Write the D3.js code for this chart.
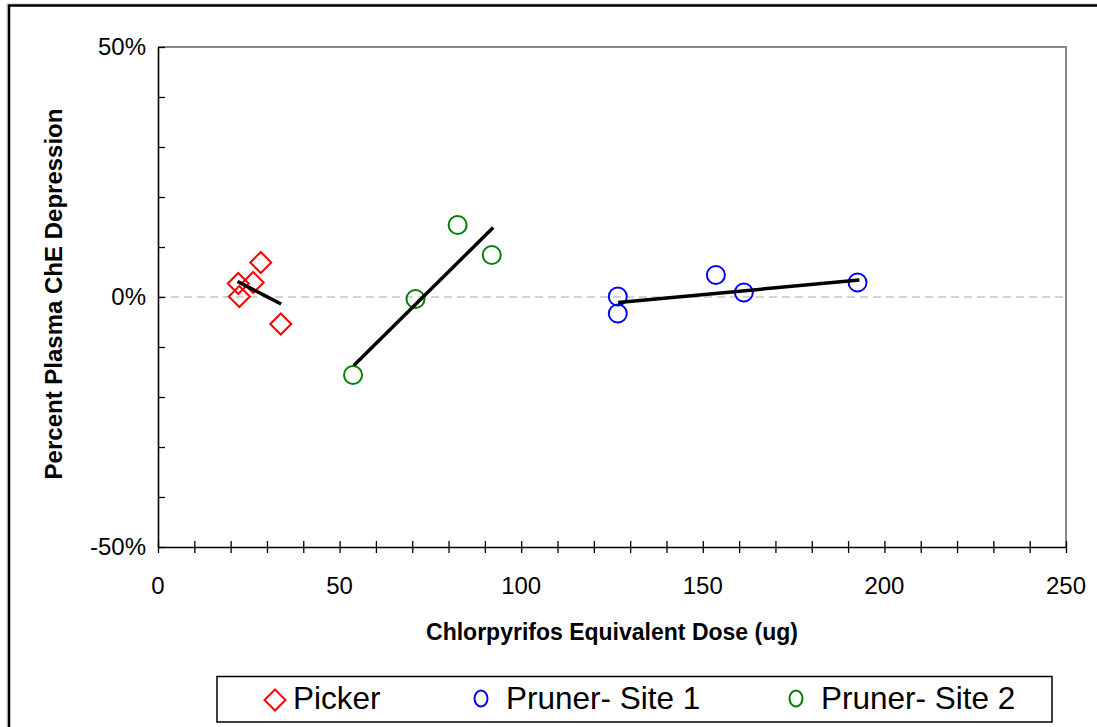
<!DOCTYPE html>
<html>
<head>
<meta charset="utf-8">
<script src="https://cdn.jsdelivr.net/npm/d3@7"></script>
<style>
  body { margin: 0; background: #fff; }
  svg { display: block; font-family: "Liberation Sans", Arial, sans-serif; }
  .tick-label { font-size: 24px; fill: #000; }
  .axis-title { font-size: 23px; font-weight: bold; fill: #000; }
  .legend-text { font-size: 31.5px; fill: #000; }
</style>
</head>
<body>
<svg width="1097" height="727"></svg>
<script>
// dose (ug) vs percent plasma ChE depression
const pickerDose = [22.1, 22.4, 26.2, 28.3, 33.8];
const pickerPct = [2.7, 0.1, 2.9, 6.9, -5.4];
const site1Dose = [126.6, 126.6, 153.6, 161.3, 192.6];
const site1Pct = [0.1, -3.3, 4.4, 0.9, 2.9];
const site2Dose = [53.7, 70.9, 82.5, 91.9];
const site2Pct = [-15.6, -0.4, 14.4, 8.4];

// trend line end points [dose, pct]
const pickerTrend = [[21.9, 3.1], [33.9, -1.4]];
const site1Trend = [[126.7, -1.1], [193.1, 3.4]];
const site2Trend = [[53.9, -13.7], [92.3, 13.9]];

const xTicks = [0, 50, 100, 150, 200, 250];
const yTicks = [50, 0, -50];
const seriesNames = ['Picker', 'Pruner- Site 1', 'Pruner- Site 2'];

const svg = d3.select('svg');

const plotLeft = 158, plotRight = 1066, plotTop = 47, plotBottom = 547;

const x = d3.scaleLinear().domain([0, 250]).range([plotLeft, plotRight]);
const y = d3.scaleLinear().domain([-50, 50]).range([plotBottom, plotTop]);

// outer chart frame
svg.append('rect')
    .attr('x', 7).attr('y', 4)
    .attr('width', 1200).attr('height', 900)
    .attr('fill', 'none')
    .attr('stroke', '#c8c8c8')
    .attr('stroke-width', 1);
svg.append('rect')
    .attr('x', 9).attr('y', 5.5)
    .attr('width', 1200).attr('height', 900)
    .attr('fill', 'none')
    .attr('stroke', '#000')
    .attr('stroke-width', 2.5);

// plot area border (top and right grey)
svg.append('path')
    .attr('d', `M${plotLeft},${plotTop}H${plotRight}V${plotBottom}`)
    .attr('fill', 'none')
    .attr('stroke', '#878787')
    .attr('stroke-width', 2);

// zero line
svg.append('line')
    .attr('x1', plotLeft).attr('x2', plotRight)
    .attr('y1', y(0)).attr('y2', y(0))
    .attr('stroke', '#a8a8a8')
    .attr('stroke-width', 1.2)
    .attr('stroke-dasharray', '8,5');

// axes with crossing ticks
const xAxis = svg.append('g')
    .attr('transform', `translate(0, ${plotBottom})`)
    .call(d3.axisBottom(x).ticks(25).tickSize(6).tickSizeOuter(0).tickFormat(''));
xAxis.selectAll('.tick line').attr('y1', -6);
const yAxis = svg.append('g')
    .attr('transform', `translate(${plotLeft}, 0)`)
    .call(d3.axisLeft(y).ticks(10).tickSize(8).tickSizeOuter(0).tickFormat(''));
yAxis.selectAll('.tick line').attr('x2', 7);
svg.selectAll('.domain').attr('stroke', '#000').attr('stroke-width', 1.6);
svg.selectAll('.tick line').attr('stroke', '#000').attr('stroke-width', 1.3);

svg.selectAll('.xlab')
    .data(xTicks)
    .enter()
    .append('text')
    .attr('class', 'tick-label')
    .attr('x', (d) => x(d))
    .attr('y', plotBottom + 47)
    .attr('text-anchor', 'middle')
    .text((d) => d);

svg.selectAll('.ylab')
    .data(yTicks)
    .enter()
    .append('text')
    .attr('class', 'tick-label')
    .attr('x', plotLeft - 12)
    .attr('y', (d) => y(d) + 8)
    .attr('text-anchor', 'end')
    .text((d) => `${d}%`);

svg.append('text')
    .attr('class', 'axis-title')
    .attr('x', (plotLeft + plotRight) / 2)
    .attr('y', 640)
    .attr('text-anchor', 'middle')
    .text('Chlorpyrifos Equivalent Dose (ug)');

svg.append('text')
    .attr('class', 'axis-title')
    .style('font-size', '24px')
    .attr('transform', `translate(62, ${(plotTop + plotBottom) / 2 - 3}) rotate(-90)`)
    .attr('text-anchor', 'middle')
    .text('Percent Plasma ChE Depression');

// markers
const diamond = (cx, cy, r) => `M${cx},${cy - r}L${cx + r},${cy}L${cx},${cy + r}L${cx - r},${cy}Z`;

svg.selectAll('.picker')
    .data(d3.zip(pickerDose, pickerPct))
    .enter()
    .append('path')
    .attr('d', (d) => diamond(x(d[0]), y(d[1]), 10.5))
    .attr('fill', 'none')
    .attr('stroke', '#ff0000')
    .attr('stroke-width', 2);

svg.selectAll('.site1')
    .data(d3.zip(site1Dose, site1Pct))
    .enter()
    .append('circle')
    .attr('cx', (d) => x(d[0]))
    .attr('cy', (d) => y(d[1]))
    .attr('r', 9)
    .attr('fill', 'none')
    .attr('stroke', '#0000ff')
    .attr('stroke-width', 2);

svg.selectAll('.site2')
    .data(d3.zip(site2Dose, site2Pct))
    .enter()
    .append('circle')
    .attr('cx', (d) => x(d[0]))
    .attr('cy', (d) => y(d[1]))
    .attr('r', 9)
    .attr('fill', 'none')
    .attr('stroke', '#008000')
    .attr('stroke-width', 2);

// trend lines
const line = d3.line().x((d) => x(d[0])).y((d) => y(d[1]));
[pickerTrend, site1Trend, site2Trend].forEach((t) => {
    svg.append('path')
        .attr('d', line(t))
        .attr('fill', 'none')
        .attr('stroke', '#000')
        .attr('stroke-width', 3.5);
});

// legend
svg.append('rect')
    .attr('x', 217).attr('y', 676.5)
    .attr('width', 835).attr('height', 45.5)
    .attr('fill', '#fff')
    .attr('stroke', '#000')
    .attr('stroke-width', 1.5);

const legendX = [293, 506, 821];
const legendY = 709;

svg.append('path')
    .attr('d', diamond(275, 700, 10.5))
    .attr('fill', 'none')
    .attr('stroke', '#ff0000')
    .attr('stroke-width', 2);
svg.append('ellipse')
    .attr('cx', 481).attr('cy', 698.5)
    .attr('rx', 6.5).attr('ry', 8)
    .attr('fill', 'none')
    .attr('stroke', '#0000ff')
    .attr('stroke-width', 2);
svg.append('ellipse')
    .attr('cx', 796).attr('cy', 698.5)
    .attr('rx', 6.5).attr('ry', 8)
    .attr('fill', 'none')
    .attr('stroke', '#008000')
    .attr('stroke-width', 2);

svg.selectAll('.legend-text')
    .data(seriesNames)
    .enter()
    .append('text')
    .attr('class', 'legend-text')
    .attr('x', (d, i) => legendX[i])
    .attr('y', legendY)
    .text((d) => d);
</script>
</body>
</html>
